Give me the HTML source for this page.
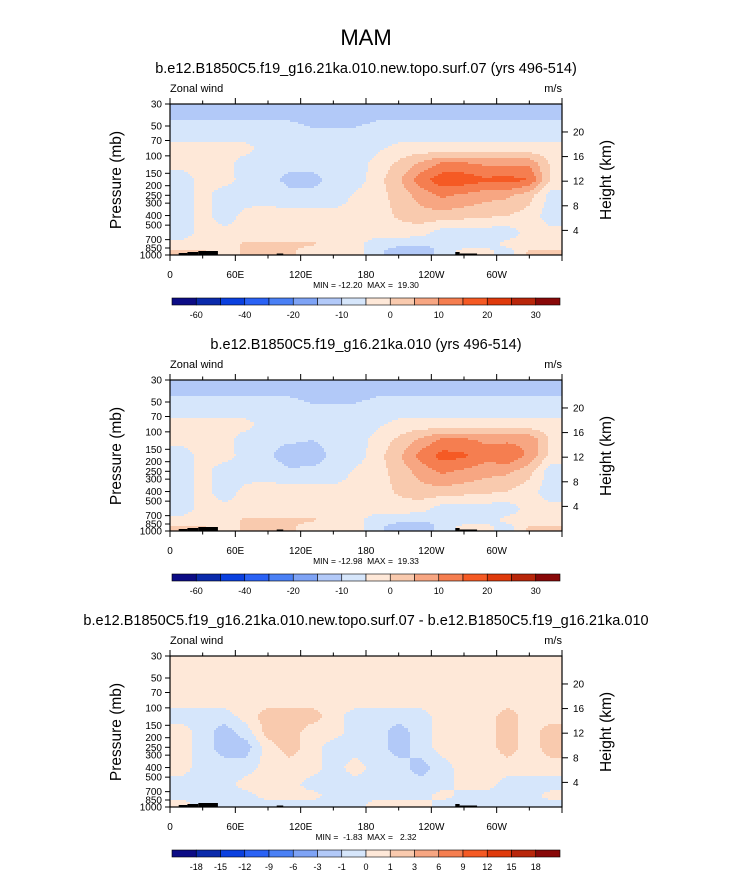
<!DOCTYPE html>
<html><head><meta charset="utf-8"><style>
body{margin:0;background:#fff;}
svg{display:block;font-family:"Liberation Sans",Arial,sans-serif;}
</style></head><body>
<svg id="fig" width="733" height="871" viewBox="0 0 733 871">
<text x="366" y="45" font-size="22" text-anchor="middle">MAM</text>
</svg>
<script>
// ---- data ----
const lonNodes=[10,30,50,70,90,110,130,150,170,190,210,230,250,270,290,310,330,350];
const presNodes=[38,60,85,120,175,250,400,600,775,925];
const p1Values=[
[-6,-6,-6,-6,-6,-6,-7,-8,-7,-6,-6,-6,-6,-6,-6,-6,-6,-6],
[-3,-3,-3,-3,-3,-3,-4,-4,-4,-3,-3,-3,-3,-3,-3,-3,-3,-3],
[2,2,2,2,-3,-3,-3,-3,-3,-1,2,2,2,2,2,2,2,2],
[2,2,2,-3,-4,-4,-4,-4,-3,2,6,11,16,16,14,14,14,4],
[-3,2,2,-2,-4,-6,-6,-4,-3,3,9,18,23,23,21,22,20,4],
[-3,2,-3,-3,-2,-4,-4,-4,1,3,7,12,16,14,12,11,7,-2],
[-3,2,-3,2,2,2,2,2,2,2,6,8,8,7,6,5,3,-3],
[-3,2,2,2,2,2,2,2,2,2,2,2,-3,-3,-3,-3,2,2],
[2,2,2,6,6,6,6,2,2,-3,-3,-4,-4,-3,-3,2,2,2],
[6,6,2,6,6,6,2,2,2,-3,-9,-9,-3,2,2,-3,6,6]];
const p2Values=[
[-6,-6,-6,-6,-6,-6,-7,-8,-7,-6,-6,-6,-6,-6,-6,-6,-6,-6],
[-3,-3,-3,-3,-3,-3,-4,-4,-4,-3,-3,-3,-3,-3,-3,-3,-3,-3],
[2,2,2,2,-3,-3,-3,-3,-3,-1,2,2,2,2,2,2,2,2],
[2,2,2,-3,-4,-4,-5,-4,-3,2,6,11,16,16,14,14,14,4],
[-3,2,2,-2,-4,-8,-7,-4,-3,3,9,17,22,21,17,19,14,3],
[-3,2,-3,-3,-2,-4,-4,-4,1,3,7,12,16,14,12,11,7,-3],
[-3,2,-3,2,2,2,2,2,2,2,6,8,8,7,6,5,2,-3],
[-3,2,2,2,2,2,2,2,2,2,2,2,-3,-3,-3,-3,2,2],
[2,2,2,6,6,6,6,2,2,-3,-3,-4,-4,-3,-3,2,2,2],
[6,6,2,6,6,6,2,2,2,-3,-9,-9,-3,2,2,-3,6,6]];
const p3Values=[
[.5,.5,.5,.5,.5,.5,.5,.5,.5,.5,.5,.5,.5,.5,.5,.5,.5,.5],
[.5,.5,.5,.5,.5,.5,.5,.5,.5,.5,.5,.5,.5,.5,.5,.5,.5,.5],
[.5,.5,.5,.5,.5,.5,.5,.5,.5,.5,.5,.5,.5,.5,.5,.5,.5,.5],
[-.5,-.5,-.5,.5,1.5,1.5,1.5,.5,-.5,-.5,-.5,-.5,.5,.5,.5,1.5,.5,.5],
[.5,-.5,-1.5,-.5,1.5,1.5,.5,.5,-.5,-.5,-1.5,-.5,.5,.5,.5,1.5,.5,1.5],
[.5,-.5,-1.5,-1.5,.5,1.5,.5,-.5,-.5,-.5,-1.5,-.5,.5,.5,.5,1.5,.5,1.5],
[.5,-.5,-.5,-.5,.5,.5,.5,-.5,.5,-.5,-.5,-1.5,-.5,.5,.5,.5,.5,.5],
[-.5,-.5,-.5,.5,.5,.5,-.5,-.5,-.5,-.5,-.5,-.5,-.5,.5,.5,-.5,-.5,-.5],
[-.5,-.5,-.5,-.5,.5,.5,.5,-.5,-.5,-.5,-.5,-.5,.5,-.5,-.5,-.5,-.5,.5],
[.5,-.5,-.5,-.5,-.5,-.5,-.5,-.5,-.5,.5,.5,.5,-.5,-.5,-.5,-.5,-.5,-.5]];
const levelsAbs=[-60,-50,-40,-30,-20,-10,-5,0,5,10,15,20,25,30,35];
const labelsAbs=["-60","-40","-20","-10","0","10","20","30"];
const labelIdxAbs=[0,2,4,6,8,10,12,14];
const levelsDiff=[-18,-15,-12,-9,-6,-3,-1,0,1,3,6,9,12,15,18];
const labelsDiff=levelsDiff.map(String);
const labelIdxDiff=levelsDiff.map((_,i)=>i);
const palette=["#0c0c85","#0a2aab","#0a40df","#2a62f5","#4a80f5","#7ea3f5","#b2c9f8","#d6e6fb","#fee8d8","#f9caae","#f7a682","#f57e50","#f55a24","#df3a0c","#b8260a","#880808"];
const xTickLabels=["0","60E","120E","180","120W","60W"];
const xTickLons=[0,60,120,180,240,300];
const presTicks=[30,50,70,100,150,200,250,300,400,500,700,850,1000];
const heightTicks=[20,16,12,8,4];
const topoLon=[[8,16,2],[16,26,3],[26,44,4],[98,104,1.5],[262,266,3],[266,282,1.5]];
const titles=["b.e12.B1850C5.f19_g16.21ka.010.new.topo.surf.07 (yrs 496-514)","b.e12.B1850C5.f19_g16.21ka.010 (yrs 496-514)","b.e12.B1850C5.f19_g16.21ka.010.new.topo.surf.07 - b.e12.B1850C5.f19_g16.21ka.010"];
const minmax=["MIN = -12.20  MAX =  19.30","MIN = -12.98  MAX =  19.33","MIN =  -1.83  MAX =   2.32"];

const NS="http://www.w3.org/2000/svg";
const svg=document.getElementById('fig');
function mk(tag,attrs,parent){const e=document.createElementNS(NS,tag);for(const k in attrs)e.setAttribute(k,attrs[k]);(parent||svg).appendChild(e);return e;}
const X0=170,X1=562,PH=151;
const xs=lon=>X0+(X1-X0)*lon/360;
function ys(top,p){return top+PH*Math.log(p/30)/Math.log(1000/30);}
const lr=presNodes.map(Math.log);
function interp(vals,lon,p){
  let lp=Math.log(p);
  let ci=(lon-10)/20; ci=Math.max(0,Math.min(17,ci));
  let c0=Math.floor(ci),c1=Math.min(17,c0+1),fc=ci-c0;
  let r0,r1,fr;
  if(lp<=lr[0]){r0=0;r1=0;fr=0;}
  else if(lp>=lr[9]){r0=9;r1=9;fr=0;}
  else{r0=0;for(let i=0;i<9;i++){if(lp>=lr[i]&&lp<=lr[i+1]){r0=i;break;}} r1=r0+1; fr=(lp-lr[r0])/(lr[r1]-lr[r0]);}
  const a=vals[r0][c0]*(1-fc)+vals[r0][c1]*fc;
  const b=vals[r1][c0]*(1-fc)+vals[r1][c1]*fc;
  return a*(1-fr)+b*fr;
}
function colorIdx(v,levels){let i=0;while(i<levels.length&&v>=levels[i])i++;return i;}

function panel(k,vals,levels,lblTxt,lblIdx){
  const dy=k*276, top=104+dy, bot=top+PH;
  const g=mk('g',{});
  
  
  const t=mk('text',{x:366,y:73+dy,'font-size':14.5,'text-anchor':'middle'},g);t.textContent=titles[k];
  
  const zw=mk('text',{x:170,y:92+dy,'font-size':11},g);zw.textContent="Zonal wind";
  
  const un=mk('text',{x:562,y:92+dy,'font-size':11,'text-anchor':'end'},g);un.textContent="m/s";
  
  const fg=mk('g',{'shape-rendering':'crispEdges'},g);
  
  const step=2;
  for(let y=top;y<bot;y+=step){
    const p=30*Math.exp(((y+step/2-top)/PH)*Math.log(1000/30));
    let runStart=X0,runC=-1;
    for(let x=X0;x<=X1;x+=step){
      let c=-2;
      if(x<X1){const lon=(x+step/2-X0)/(X1-X0)*360;c=colorIdx(interp(vals,lon,p),levels);}
      if(c!==runC){
        if(runC>=0){const r=mk('rect',{x:runStart,y:y,width:Math.min(x,X1)-runStart,height:Math.min(step,bot-y),fill:palette[runC]},fg);
          }
        runStart=x;runC=c;
      }
    }
  }
  topoLon.forEach(tp=>{const r=mk('rect',{x:xs(tp[0]),y:bot-tp[2],width:xs(tp[1])-xs(tp[0]),height:tp[2],fill:'#000'},g);
    });
  const fr=mk('rect',{x:X0,y:top,width:X1-X0,height:PH,fill:'none',stroke:'#000','stroke-width':1.2},g);
  
  for(let lon=0;lon<=360;lon+=30){
    const x=xs(lon),len=lon%60===0?6:3.5;
    mk('line',{x1:x,y1:top,x2:x,y2:top-len,stroke:'#000','stroke-width':1},g);
    mk('line',{x1:x,y1:bot,x2:x,y2:bot+len,stroke:'#000','stroke-width':1},g);
  }
  xTickLons.forEach((lon,i)=>{const tx=mk('text',{x:xs(lon),y:bot+23,'font-size':10,'text-anchor':'middle'},g);tx.textContent=xTickLabels[i];
    });
  presTicks.forEach(p=>{const y=ys(top,p);
    mk('line',{x1:X0,y1:y,x2:X0-5,y2:y,stroke:'#000','stroke-width':1},g);
    const tx=mk('text',{x:X0-8,y:y+3.5,'font-size':10,'text-anchor':'end'},g);tx.textContent=p;
    });
  heightTicks.forEach(h=>{const p=1000*Math.exp(-h/7);const y=ys(top,p);
    mk('line',{x1:X1,y1:y,x2:X1+6,y2:y,stroke:'#000','stroke-width':1},g);
    const tx=mk('text',{x:X1+11,y:y+3.5,'font-size':10},g);tx.textContent=h;
    });
  const yl=mk('text',{x:0,y:0,'font-size':15.5,'text-anchor':'middle',transform:`translate(121 ${top+76}) rotate(-90)`},g);yl.textContent="Pressure (mb)";
  
  const yr=mk('text',{x:0,y:0,'font-size':15.5,'text-anchor':'middle',transform:`translate(611 ${top+76}) rotate(-90)`},g);yr.textContent="Height (km)";
  
  const mm=mk('text',{x:366,y:bot+33,'font-size':8.5,'text-anchor':'middle'},g);mm.textContent=minmax[k];mm.setAttribute('xml:space','preserve');mm.style.whiteSpace='pre';
  
  const cb=mk('g',{},g);
  const cx0=172,cx1=560,cy=top+194,bw=(cx1-cx0)/16;
  palette.forEach((c,i)=>{const r=mk('rect',{x:cx0+i*bw,y:cy,width:bw,height:7,fill:c,stroke:'#000','stroke-width':0.6},cb);
    });
  lblIdx.forEach((li,j)=>{const tx=mk('text',{x:cx0+(li+1)*bw,y:cy+20,'font-size':9,'text-anchor':'middle'},cb);tx.textContent=lblTxt[j];
    });
}
panel(0,p1Values,levelsAbs,labelsAbs,labelIdxAbs);
panel(1,p2Values,levelsAbs,labelsAbs,labelIdxAbs);
panel(2,p3Values,levelsDiff,labelsDiff,labelIdxDiff);
</script>
</body></html>
